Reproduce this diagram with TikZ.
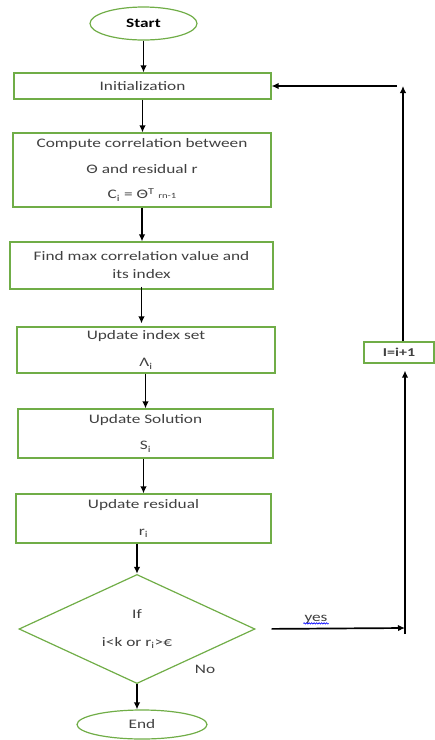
\documentclass[tikz,border=0pt]{standalone}
\usepackage{fontspec}
\setmainfont[FakeStretch=1.33]{Carlito}
\usepackage{tikz}
\definecolor{boxgreen}{RGB}{112,173,71}
\definecolor{txt}{RGB}{64,64,64}
\usetikzlibrary{shapes.geometric,arrows.meta,decorations.pathmorphing}

\begin{document}
\begin{tikzpicture}[x=1pt,y=-1pt,
        box/.style={draw=boxgreen,line width=1.2pt,rectangle,align=center,text=txt,inner sep=0pt},
        term/.style={draw=boxgreen,line width=1.2pt,ellipse,inner sep=0pt},
        flow/.style={line width=1.7pt,-{Latex[length=7pt,width=6.5pt]}},
        font=\fontsize{13}{18}\selectfont]
        \useasboundingbox (0,0) rectangle (435,740);

        \node[term,minimum width=107pt,minimum height=33pt,font=\fontsize{13}{18}\selectfont\bfseries] (start) at (143.5,23.5) {Start};
        \node[box,minimum width=257pt,minimum height=26pt] (init) at (142.5,86) {Initialization};
        \node[box,minimum width=258pt,minimum height=74pt] (corr) at (142,170)
            {Compute correlation between\\[7.5pt] Θ and residual r\\[7.5pt] C\textsubscript{i} = Θ\textsuperscript{T} {\footnotesize rn-1}};
        \node[box,minimum width=263pt,minimum height=47pt] (maxc) at (141.5,265.5)
            {Find max correlation value and\\ its index};
        \node[box,minimum width=258pt,minimum height=46pt] (idx) at (146,350)
            {Update index set\\[9pt] Λ\textsubscript{i}};
        \node[box,minimum width=255pt,minimum height=49pt] (sol) at (145.5,433.5)
            {Update Solution\\[8pt] S\textsubscript{i}};
        \node[box,minimum width=255pt,minimum height=49pt] (res) at (143.5,518.5)
            {Update residual\\[9pt] r\textsubscript{i}};
        \node[box,diamond,minimum width=236pt,minimum height=104pt] (cond) at (137,629)
            {If\\[10pt] i<k or r\textsubscript{i}>€};
        \node[term,minimum width=130pt,minimum height=29pt,text=txt] (endn) at (142,724.5) {End};
        \node[box,minimum width=70pt,minimum height=21pt,font=\fontsize{12}{14}\selectfont\bfseries] (inc) at (399,352.5) {I=i+1};

        \node[text=txt] (nolbl) at (205,669) {No};
        \node[text=txt,inner sep=1pt] (yeslbl) at (316,619) {yes};
        \draw[blue,line width=0.6pt,decorate,decoration={snake,amplitude=0.7pt,segment length=2.5pt}]
            ([yshift=1pt]yeslbl.south west) -- ([yshift=1pt]yeslbl.south east);

        \coordinate (yesend) at (405,628);
        \coordinate (loopbot) at (405,634);
        \coordinate (bend) at (403,86);

        \draw[flow] (start.south) -- (start.south |- init.north);
        \draw[flow] (init.south) -- (init.south |- corr.north);
        \draw[flow] (corr.south) -- (corr.south |- maxc.north);
        \draw[flow] ([yshift=3pt]maxc.south) -- ([yshift=3pt]maxc.south |- idx.north);
        \draw[flow] (idx.south -| sol.north) -- (sol.north);
        \draw[flow] (sol.south -| res.north) -- (res.north);
        \draw[flow] (res.south -| cond.north) -- (cond.north);
        \draw[flow] (cond.south) -- (cond.south |- endn.north);

        \draw[flow,shorten <=16pt] (cond.east) -- (yesend);
        \draw[flow,shorten >=7pt] (loopbot) -- (loopbot |- inc.south);
        \draw[flow] (inc.north -| bend) -- (bend);
        \draw[flow,shorten <=6pt] (bend) -- (init.east);
    \end{tikzpicture}
\end{document}
